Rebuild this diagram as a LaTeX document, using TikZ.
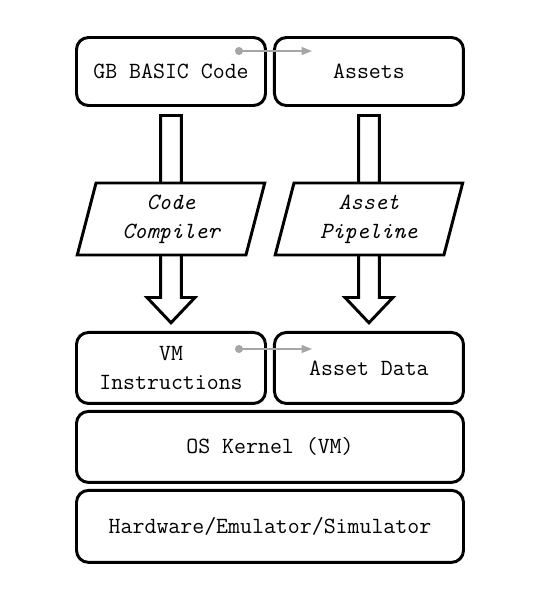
\documentclass[tikz,border=0pt]{standalone}
\usepackage{xcolor}
\definecolor{mainDark}{HTML}{000000}
\definecolor{linkGray}{HTML}{A6A6A6}
\usepackage{tikz}
\usetikzlibrary{shapes,arrows,positioning,calc,arrows.meta,shapes.geometric}
\tikzset{
  layerBox/.style={
    rectangle,
    rounded corners=0.3cm,
    draw=mainDark,
    line width=2.1pt,
    fill=white,
    minimum width=4.725cm,
    minimum height=1.775cm,
    align=center,
    font=\fontsize{16.5}{20.6}\selectfont\ttfamily
 },
  wideBox/.style={
    layerBox,
    minimum width=9.675cm
 },
  procBox/.style={
    trapezium,
    trapezium left angle=77,
    trapezium right angle=103,
    trapezium stretches=true,
    draw=mainDark,
    line width=2.1pt,
    fill=white,
    minimum width=4.7cm,
    minimum height=1.8cm,
    align=center,
    font=\fontsize{16.5}{20.6}\selectfont\ttfamily\itshape
 },
  blockArrow/.style={
    draw=mainDark,
    line width=2.1pt,
    fill=white
 },
  dataLink/.style={
    {Circle[length=2mm]}-{Triangle[length=2.6mm,width=2mm]},
    line width=0.8pt,
    color=linkGray
 }
}
\newcommand{\bigArrow}[2]{%
  \draw[blockArrow] ($(#1.south)+(-0.26,-0.2125)$) -- ($(#1.south)+(0.26,-0.2125)$)
    -- ($(#2.north)+(0.26,0.8375)$) -- ($(#2.north)+(0.6,0.8375)$)
    -- ($(#2.north)+(0,0.205)$) -- ($(#2.north)+(-0.6,0.8375)$)
    -- ($(#2.north)+(-0.26,0.8375)$) -- cycle;}

\begin{document}
\begin{tikzpicture}
            \useasboundingbox (0,0) rectangle (13.525,-14.975);

            \node[layerBox, minimum height=1.7cm] (code) at (4.275,-1.7875) {GB BASIC Code};
            \node[layerBox, minimum height=1.7cm, right=0.15cm of code] (assets) {Assets};
            \node[layerBox, below=5.6cm of code] (vm) {VM\\Instructions};
            \node[layerBox, right=0.15cm of vm] (data) {Asset Data};
            \node[wideBox, below=0.125cm of vm.south west, anchor=north west] (os) {OS Kernel (VM)};
            \node[wideBox, minimum height=1.8cm, below=0.125cm of os] (hw) {Hardware/Emulator/Simulator};

            % Big arrows behind the tools
            \bigArrow{code}{vm}
            \bigArrow{assets}{data}

            \node[procBox] (compiler) at ($(code.south)!0.5!(vm.north)$) {Code\\Compiler};
            \node[procBox] (pipeline) at ($(assets.south)!0.5!(data.north)$) {Asset\\Pipeline};

            % Links between code and assets
            \coordinate (codeDot) at ($(code.north east)+(-0.8,-0.375)$);
            \coordinate (assetsEnd) at ($(assets.north west)+(0.975,-0.375)$);
            \coordinate (vmDot) at ($(vm.north east)+(-0.8,-0.45)$);
            \coordinate (dataEnd) at ($(data.north west)+(0.975,-0.45)$);
            \draw[dataLink] (codeDot) -- (assetsEnd);
            \draw[dataLink] (vmDot) -- (dataEnd);
        \end{tikzpicture}
\end{document}
